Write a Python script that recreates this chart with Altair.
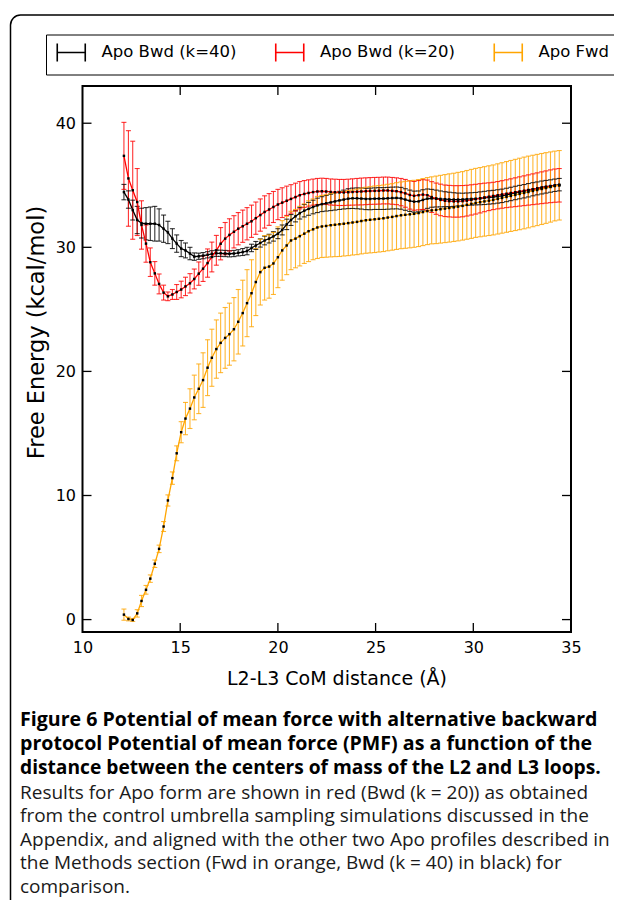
import altair as alt
import pandas as pd

# ---------------- data ----------------
x_vals = [12.12, 12.35, 12.57, 12.80, 13.02, 13.25, 13.47, 13.70, 13.92, 14.15,
          14.37, 14.60, 14.82, 15.05, 15.27, 15.50, 15.72, 15.95, 16.17, 16.40,
          16.62, 16.85, 17.07, 17.30, 17.52, 17.75, 17.97, 18.20, 18.42, 18.65,
          18.87, 19.10, 19.32, 19.55, 19.77, 20.00, 20.22, 20.45, 20.67, 20.90,
          21.12, 21.35, 21.57, 21.80, 22.02, 22.25, 22.47, 22.70, 22.92, 23.15,
          23.37, 23.60, 23.82, 24.05, 24.27, 24.50, 24.72, 24.95, 25.17, 25.40,
          25.62, 25.85, 26.07, 26.30, 26.52, 26.75, 26.97, 27.20, 27.42, 27.65,
          27.87, 28.10, 28.32, 28.55, 28.77, 29.00, 29.22, 29.45, 29.67, 29.90,
          30.12, 30.35, 30.57, 30.80, 31.02, 31.25, 31.47, 31.70, 31.92, 32.15,
          32.37, 32.60, 32.82, 33.05, 33.27, 33.50, 33.72, 33.95, 34.17, 34.40]

bwd40_y = [34.45, 33.85, 33.0, 32.2, 31.95, 31.9, 31.9, 31.9, 31.8, 31.5,
           31.2, 30.7, 30.3, 29.9, 29.75, 29.5, 29.25, 29.28, 29.33, 29.4,
           29.48, 29.52, 29.52, 29.5, 29.48, 29.5, 29.56, 29.62, 29.7, 29.95,
           30.15, 30.35, 30.55, 30.7, 30.88, 31.1, 31.4, 31.85, 32.2, 32.5,
           32.75, 32.95, 33.1, 33.25, 33.38, 33.48, 33.55, 33.62, 33.7, 33.78,
           33.85, 33.92, 33.95, 33.95, 33.93, 33.9, 33.9, 33.92, 33.93, 33.93,
           33.95, 33.97, 33.98, 33.95, 33.85, 33.75, 33.68, 33.7, 33.82, 33.92,
           33.95, 33.93, 33.9, 33.88, 33.86, 33.85, 33.85, 33.86, 33.88, 33.9,
           33.92, 33.95, 33.98, 34.02, 34.05, 34.1, 34.15, 34.22, 34.3, 34.38,
           34.45, 34.52, 34.6, 34.68, 34.75, 34.82, 34.88, 34.94, 35.0, 35.05]
bwd40_err = [0.62, 0.7, 0.8, 1.1, 1.2, 1.3, 1.35, 1.4, 1.3, 1.1,
             0.9, 0.8, 0.7, 0.65, 0.6, 0.5, 0.3, 0.25, 0.25, 0.25,
             0.25, 0.25, 0.25, 0.25, 0.25, 0.25, 0.25, 0.28, 0.3, 0.3,
             0.32, 0.33, 0.35, 0.35, 0.38, 0.4, 0.4, 0.42, 0.44, 0.45,
             0.47, 0.5, 0.52, 0.55, 0.58, 0.6, 0.63, 0.66, 0.7, 0.73,
             0.76, 0.8, 0.82, 0.84, 0.85, 0.86, 0.87, 0.87, 0.88, 0.88,
             0.88, 0.88, 0.88, 0.88, 0.87, 0.86, 0.85, 0.84, 0.82, 0.78,
             0.72, 0.68, 0.64, 0.6, 0.58, 0.55, 0.52, 0.5, 0.5, 0.5,
             0.5, 0.52, 0.53, 0.54, 0.54, 0.54, 0.54, 0.54, 0.54, 0.54,
             0.54, 0.54, 0.54, 0.53, 0.52, 0.52, 0.51, 0.5, 0.5, 0.5]

bwd20_y = [37.37, 35.55, 34.6, 33.65, 31.8, 30.3, 28.8, 27.9, 27.05, 26.35,
           26.05, 26.2, 26.4, 26.6, 26.85, 27.1, 27.45, 27.88, 28.28, 28.73,
           29.22, 29.76, 30.29, 30.7, 31.0, 31.25, 31.5, 31.7, 31.9, 32.1,
           32.35, 32.6, 32.85, 33.05, 33.25, 33.45, 33.6, 33.75, 33.9, 34.05,
           34.2, 34.3, 34.38, 34.45, 34.5, 34.52, 34.5, 34.46, 34.44, 34.42,
           34.42, 34.44, 34.46, 34.48, 34.5, 34.52, 34.54, 34.55, 34.56, 34.58,
           34.58, 34.55, 34.52, 34.45, 34.35, 34.22, 34.15, 34.2, 34.25, 34.2,
           34.05, 33.92, 33.82, 33.75, 33.72, 33.7, 33.7, 33.72, 33.76, 33.82,
           33.88, 33.95, 34.02, 34.08, 34.14, 34.2, 34.26, 34.32, 34.38, 34.44,
           34.5, 34.56, 34.62, 34.68, 34.74, 34.8, 34.86, 34.92, 34.97, 35.0]
bwd20_err = [2.7, 3.85, 3.95, 2.7, 1.95, 1.5, 1.15, 0.95, 0.8, 0.6,
             0.35, 0.4, 0.6, 0.67, 0.74, 0.78, 0.8, 0.94, 1.03, 1.14,
             1.2, 1.2, 1.3, 1.3, 1.3, 1.3, 1.3, 1.3, 1.3, 1.3,
             1.3, 1.3, 1.3, 1.28, 1.25, 1.22, 1.2, 1.18, 1.15, 1.12,
             1.1, 1.08, 1.06, 1.05, 1.05, 1.05, 1.05, 1.05, 1.05, 1.05,
             1.05, 1.05, 1.06, 1.07, 1.08, 1.08, 1.08, 1.08, 1.08, 1.08,
             1.08, 1.08, 1.08, 1.1, 1.12, 1.14, 1.16, 1.18, 1.2, 1.22,
             1.24, 1.26, 1.27, 1.27, 1.27, 1.27, 1.27, 1.26, 1.24, 1.22,
             1.2, 1.18, 1.15, 1.12, 1.1, 1.1, 1.11, 1.12, 1.14, 1.16,
             1.18, 1.2, 1.22, 1.24, 1.26, 1.28, 1.3, 1.32, 1.34, 1.35]

fwd_y = [0.4, 0.05, -0.03, 0.5, 1.5, 2.4, 3.3, 4.5, 5.7, 7.5,
         9.6, 11.4, 13.4, 15.1, 16.2, 17.0, 17.9, 18.6, 19.3, 20.3,
         21.1, 21.8, 22.3, 22.7, 23.0, 23.4, 24.0, 24.7, 25.5, 26.3,
         27.2, 28.0, 28.35, 28.45, 28.7, 29.2, 29.75, 30.15, 30.55, 30.7,
         30.9, 31.1, 31.3, 31.45, 31.6, 31.68, 31.72, 31.78, 31.82, 31.86,
         31.9, 31.95, 32.0, 32.05, 32.12, 32.18, 32.22, 32.26, 32.3, 32.34,
         32.4, 32.45, 32.52, 32.58, 32.62, 32.66, 32.7, 32.76, 32.84, 32.92,
         32.98, 33.02, 33.07, 33.12, 33.17, 33.22, 33.28, 33.34, 33.42, 33.5,
         33.58, 33.64, 33.7, 33.76, 33.82, 33.9, 33.98, 34.06, 34.14, 34.22,
         34.3, 34.38, 34.46, 34.54, 34.62, 34.7, 34.78, 34.86, 34.94, 35.0]
fwd_err = [0.45, 0.15, 0.12, 0.3, 0.45, 0.35, 0.3, 0.3, 0.3, 0.4,
           0.45, 0.5, 0.6, 0.85, 1.3, 1.6, 1.8, 2.0, 2.2, 2.25,
           2.3, 2.35, 2.4, 2.45, 2.5, 2.55, 2.6, 2.65, 2.7, 2.7,
           2.7, 2.65, 2.6, 2.55, 2.5, 2.45, 2.4, 2.35, 2.35, 2.35,
           2.4, 2.4, 2.45, 2.45, 2.5, 2.5, 2.52, 2.55, 2.57, 2.6,
           2.6, 2.62, 2.62, 2.64, 2.65, 2.66, 2.67, 2.68, 2.68, 2.68,
           2.68, 2.68, 2.69, 2.69, 2.7, 2.7, 2.7, 2.7, 2.7, 2.7,
           2.7, 2.72, 2.73, 2.74, 2.75, 2.75, 2.76, 2.76, 2.77, 2.78,
           2.78, 2.79, 2.8, 2.81, 2.82, 2.83, 2.84, 2.85, 2.86, 2.87,
           2.88, 2.89, 2.89, 2.88, 2.87, 2.86, 2.85, 2.83, 2.81, 2.8]

series_names = ["Apo Bwd (k=40)", "Apo Bwd (k=20)", "Apo Fwd"]
series_colors = ["#000000", "#ff0000", "#ffa500"]

x_tick_values = [15, 20, 25, 30]
x_label_values = [10, 15, 20, 25, 30, 35]
y_tick_values = [0, 10, 20, 30, 40]

x_title = "L2-L3 CoM distance (Å)"
y_title = "Free Energy (kcal/mol)"

caption_bold_lines = ["Figure 6 Potential of mean force with alternative backward",
                      "protocol Potential of mean force (PMF) as a function of the",
                      "distance between the centers of mass of the L2 and L3 loops."]
caption_regular = ("Results for Apo form are shown in red (Bwd (k = 20)) as obtained\n"
                   "from the control umbrella sampling simulations discussed in the\n"
                   "Appendix, and aligned with the other two Apo profiles described in\n"
                   "the Methods section (Fwd in orange, Bwd (k = 40) in black) for\n"
                   "comparison.")

# ---------------- table ----------------
rows = []
for name, ys, es in [(series_names[0], bwd40_y, bwd40_err),
                     (series_names[1], bwd20_y, bwd20_err),
                     (series_names[2], fwd_y, fwd_err)]:
    for xv, yv, ev in zip(x_vals, ys, es):
        rows.append({"series": name, "x": xv, "y": yv, "lo": yv - ev, "hi": yv + ev})
df = pd.DataFrame(rows)

# ---------------- layout constants ----------------
W, H = 488.5, 546
FONT = "DejaVu Sans"

xscale = alt.Scale(domain=[10, 35], nice=False, zero=False)
yscale = alt.Scale(domain=[-1, 43], nice=False, zero=False)

xaxis = alt.Axis(values=x_label_values, format="d", domain=False, ticks=False, grid=False,
                 labelFontSize=16, labelFont=FONT, labelColor="black", labelPadding=7,
                 labelFlush=False, labelOverlap=False,
                 titleFontSize=19, titleFont=FONT, titleFontWeight="normal",
                 titleColor="black", titlePadding=14, titleX=254)
yaxis = alt.Axis(values=y_tick_values, format="d", domain=False, ticks=False, grid=False,
                 labelFontSize=16, labelFont=FONT, labelColor="black", labelPadding=7,
                 labelFlush=False, labelOverlap=False,
                 titleFontSize=22.5, titleFont=FONT, titleFontWeight="normal",
                 titleColor="black", titleX=-46, titleY=246, titleAngle=270,
                 titleAlign="center", titleBaseline="middle")

X = alt.X("x:Q", scale=xscale, axis=xaxis, title=x_title)
Ylo = alt.Y("lo:Q", scale=yscale, axis=yaxis, title=y_title)
Yhi = alt.Y("hi:Q", scale=yscale, axis=yaxis, title=y_title)
Ymid = alt.Y("y:Q", scale=yscale, axis=yaxis, title=y_title)

glyph = "M-2,-1.3L-2,1.3M-2,0L2,0M2,-1.3L2,1.3"
legend = alt.Legend(title=None, orient="none", legendX=-36.5, legendY=-51.5,
                    direction="horizontal", symbolType=glyph, symbolSize=196,
                    symbolStrokeWidth=1.6, symbolOffset=7.5, symbolOpacity=1,
                    symbolFillColor="transparent",
                    labelOffset=22, labelFontSize=16.5, labelFont=FONT, labelColor="black",
                    columnPadding=35.5, padding=9.5, strokeColor="black")
C = alt.Color("series:N", scale=alt.Scale(domain=series_names, range=series_colors),
              legend=legend)

base = alt.Chart(df)

bars = base.mark_rule(strokeWidth=1.1, opacity=0.8).encode(x=X, y=Ylo, y2="hi:Q", color=C)
cap_hi = base.mark_rule(strokeWidth=1.1, opacity=0.8, xOffset=-2.5, x2Offset=2.5).encode(
    x=X, x2="x:Q", y=Yhi, color=C)
cap_lo = base.mark_rule(strokeWidth=1.1, opacity=0.8, xOffset=-2.5, x2Offset=2.5).encode(
    x=X, x2="x:Q", y=Ylo, color=C)
lines = base.mark_line(strokeWidth=1.3).encode(x=X, y=Ymid, color=C)
points = base.mark_square(size=6, color="black", opacity=1).encode(x=X, y=Ymid)

# inward ticks on all four sides
xt = alt.Chart(pd.DataFrame({"x": x_tick_values}))
yt = alt.Chart(pd.DataFrame({"y": y_tick_values}))
tick_b = xt.mark_rule(color="black", strokeWidth=1.3).encode(x=X, y=alt.value(H), y2=alt.value(H - 9))
tick_t = xt.mark_rule(color="black", strokeWidth=1.3).encode(x=X, y=alt.value(0), y2=alt.value(9))
tick_l = yt.mark_rule(color="black", strokeWidth=1.3).encode(y=Ymid, x=alt.value(0), x2=alt.value(9))
tick_r = yt.mark_rule(color="black", strokeWidth=1.3).encode(y=Ymid, x=alt.value(W), x2=alt.value(W - 9))

one = pd.DataFrame({"b0": [caption_bold_lines[0]], "b1": [caption_bold_lines[1]],
                    "b2": [caption_bold_lines[2]], "r": [caption_regular]})

bold_sizes = [19.6, 19.6, 19.2]
bold_layers = []
for k in range(3):
    bold_layers.append(
        alt.Chart(one).mark_text(align="left", baseline="alphabetic", font="Open Sans",
                                 fontSize=bold_sizes[k], fontWeight="bold", color="black").encode(
            text=f"b{k}:N", x=alt.value(-62.5), y=alt.value(640 + 23.8 * k)))

cap_reg = alt.Chart(one).mark_text(align="left", baseline="alphabetic", lineBreak="\n",
                                   lineHeight=23.6, font="Open Sans", fontSize=19.0,
                                   color="#1a1a1a").encode(
    text="r:N", x=alt.value(-62.5), y=alt.value(712.5))

border = alt.Chart(one).mark_rect(fillOpacity=0, stroke="black", strokeWidth=1.5,
                                  cornerRadius=10).encode(
    x=alt.value(-72), x2=alt.value(580), y=alt.value(-71), y2=alt.value(900))

chart = alt.layer(
    border, bars, cap_hi, cap_lo, lines, points,
    tick_b, tick_t, tick_l, tick_r, *bold_layers, cap_reg
).properties(
    width=W, height=H,
    autosize=alt.AutoSizeParams(type="none"),
    padding={"left": 74.5, "top": 78, "right": 43, "bottom": 268},
    background="white",
).configure_view(stroke="black", strokeWidth=2)

chart.save("out.html", embed_options={"renderer": "svg", "actions": False})
